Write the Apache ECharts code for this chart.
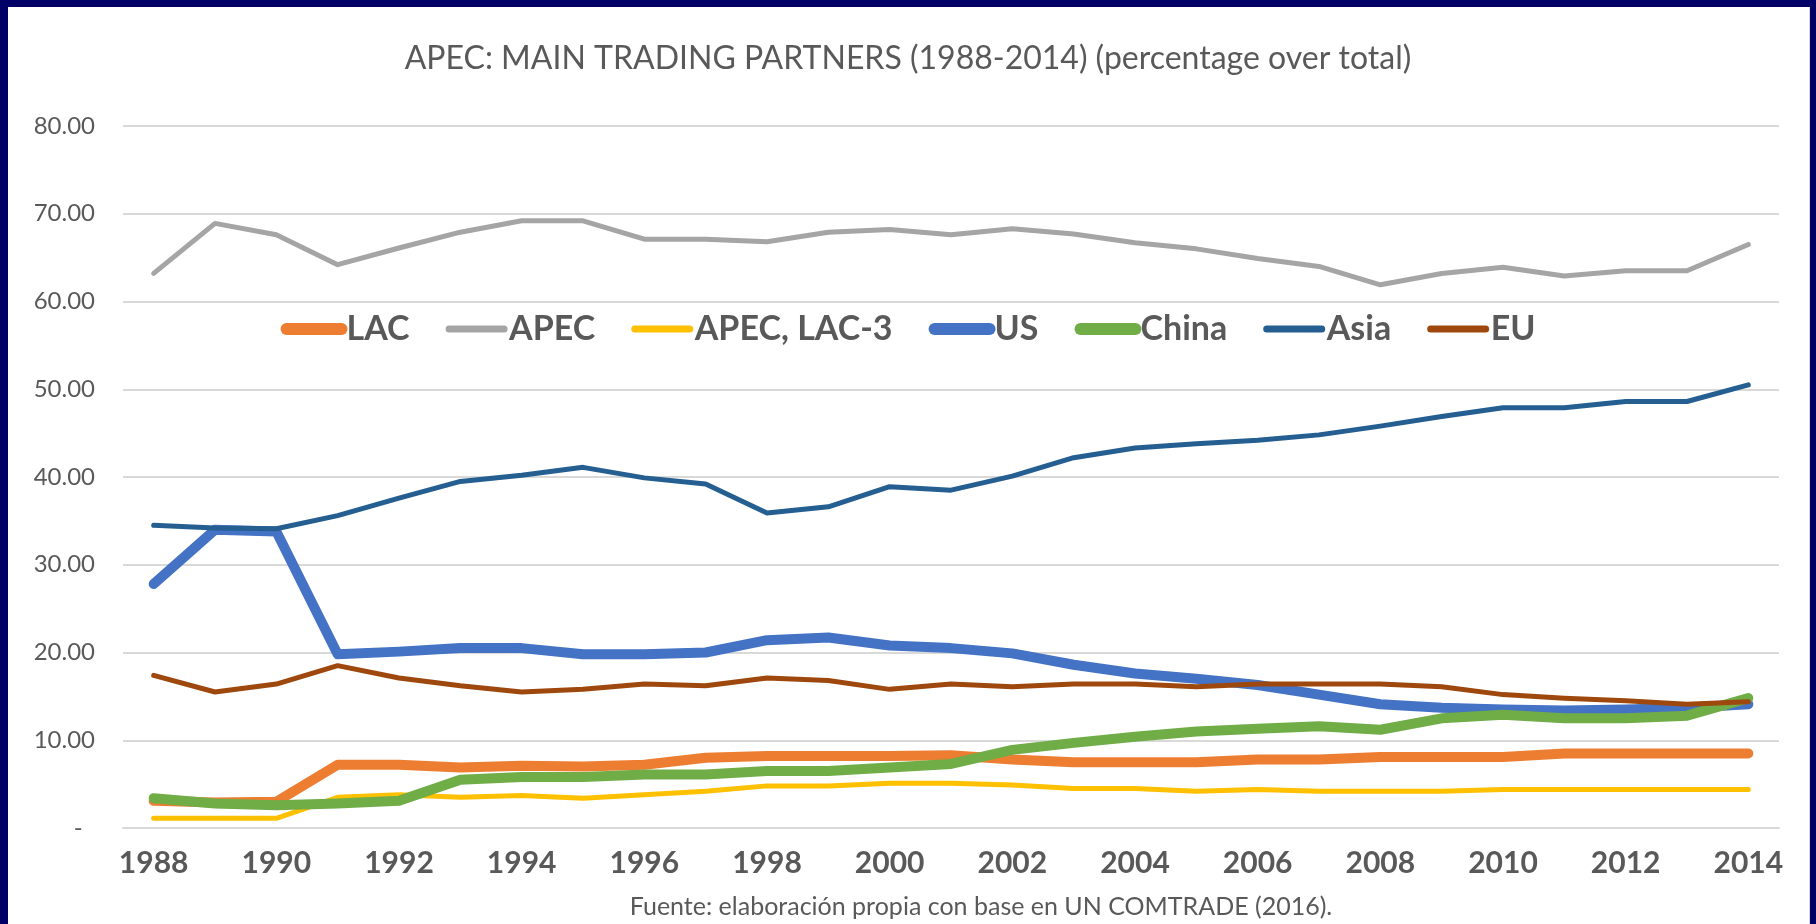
<!DOCTYPE html>
<html lang="en">
<head>
    <meta charset="UTF-8">
    <title>APEC: MAIN TRADING PARTNERS (1988-2014)</title>
    <script src="https://cdn.jsdelivr.net/npm/echarts@6/dist/echarts.min.js"></script>
    <style>
        html, body { margin: 0; padding: 0; background: #000066; }
        #panel { position: absolute; left: 8px; top: 7px; width: 1801px; height: 917px; background: #fff; border-right: 1px solid #d9d9d9; }
        #chart { position: absolute; left: 0; top: 0; width: 1816px; height: 924px; }
    </style>
</head>
<body>
    <div id="panel"></div>
    <div id="chart"></div>

    <script>
        // years on the x axis
        var years = ['1988', '1989', '1990', '1991', '1992', '1993', '1994', '1995', '1996', '1997',
            '1998', '1999', '2000', '2001', '2002', '2003', '2004', '2005', '2006', '2007',
            '2008', '2009', '2010', '2011', '2012', '2013', '2014'];

        // y axis tick labels (0..80 step 10)
        var yTickLabels = ['-  ', '10.00', '20.00', '30.00', '40.00', '50.00', '60.00', '70.00', '80.00'];

        // series values (percentage over total)
        var lac = [3.1, 2.9, 3.0, 7.2, 7.2, 6.9, 7.1, 7.0, 7.2, 8.0, 8.2, 8.2, 8.2, 8.3, 7.8, 7.5, 7.5, 7.5, 7.8, 7.8, 8.1, 8.1, 8.1, 8.5, 8.5, 8.5, 8.5];
        var apec = [63.2, 68.9, 67.6, 64.2, 66.1, 67.9, 69.2, 69.2, 67.1, 67.1, 66.8, 67.9, 68.2, 67.6, 68.3, 67.7, 66.7, 66.0, 64.9, 64.0, 61.9, 63.2, 63.9, 62.9, 63.5, 63.5, 66.5];
        var apecLac3 = [1.1, 1.1, 1.1, 3.5, 3.8, 3.5, 3.7, 3.4, 3.8, 4.2, 4.8, 4.8, 5.1, 5.1, 4.9, 4.5, 4.5, 4.2, 4.4, 4.2, 4.2, 4.2, 4.4, 4.4, 4.4, 4.4, 4.4];
        var us = [27.8, 34.0, 33.8, 19.8, 20.1, 20.5, 20.5, 19.8, 19.8, 20.0, 21.4, 21.7, 20.8, 20.5, 19.9, 18.6, 17.6, 17.0, 16.3, 15.2, 14.1, 13.7, 13.5, 13.4, 13.5, 13.7, 14.1];
        var china = [3.4, 2.8, 2.6, 2.8, 3.1, 5.5, 5.8, 5.8, 6.1, 6.1, 6.5, 6.5, 6.9, 7.3, 8.9, 9.7, 10.4, 11.0, 11.3, 11.6, 11.2, 12.5, 12.9, 12.5, 12.5, 12.8, 14.8];
        var asia = [34.5, 34.2, 34.1, 35.6, 37.6, 39.5, 40.2, 41.1, 39.9, 39.2, 35.9, 36.6, 38.9, 38.5, 40.1, 42.2, 43.3, 43.8, 44.2, 44.8, 45.8, 46.9, 47.9, 47.9, 48.6, 48.6, 50.5];
        var eu = [17.4, 15.5, 16.4, 18.5, 17.1, 16.2, 15.5, 15.8, 16.4, 16.2, 17.1, 16.8, 15.8, 16.4, 16.1, 16.4, 16.4, 16.1, 16.4, 16.4, 16.4, 16.1, 15.2, 14.8, 14.5, 14.1, 14.4];

        var seriesNames = ['LAC', 'APEC', 'APEC, LAC-3', 'US', 'China', 'Asia', 'EU'];
        var seriesData = [lac, apec, apecLac3, us, china, asia, eu];
        var seriesColors = ['#ED7D31', '#A5A5A5', '#FFC000', '#4472C4', '#70AD47', '#255E91', '#9E480E'];
        var seriesWidths = [10, 5, 5, 10, 10, 5, 5];

        var textColor = '#595959';
        var fontFamily = 'Lato, "Open Sans", sans-serif';

        var chart = echarts.init(document.getElementById('chart'));

        var series = seriesNames.map(function (name, i) {
            return {
                name: name,
                type: 'line',
                data: seriesData[i],
                symbol: 'none',
                color: seriesColors[i],
                lineStyle: { width: seriesWidths[i], color: seriesColors[i], cap: 'round', join: 'round' }
            };
        });

        // legend icons: plain rounded line of the series' own thickness, no marker
        var legendData = seriesNames.map(function (name, i) {
            return {
                name: name,
                itemStyle: { opacity: 0 },
                lineStyle: { width: seriesWidths[i] + 2, color: seriesColors[i], cap: 'round', opacity: 1 }
            };
        });

        var option = {
            animation: false,
            textStyle: { fontFamily: fontFamily },
            title: {
                text: 'APEC: MAIN TRADING PARTNERS (1988-2014) (percentage over total)',
                left: 'center',
                top: 38,
                textStyle: { fontSize: 32, fontWeight: 'normal', color: textColor, fontFamily: fontFamily }
            },
            legend: {
                data: legendData,
                top: 307,
                left: 'center',
                itemWidth: 55,
                itemHeight: 14,
                itemGap: 36,
                itemStyle: { opacity: 0 },
                textStyle: { fontSize: 34, fontWeight: 'bold', color: textColor, fontFamily: fontFamily }
            },
            grid: { left: 123, right: 37, top: 126, bottom: 96 },
            xAxis: {
                type: 'category',
                data: years,
                boundaryGap: true,
                axisLine: { show: true, lineStyle: { color: '#d9d9d9', width: 2 } },
                axisTick: { show: false },
                axisLabel: { interval: 1, fontSize: 30, fontWeight: 'bold', color: textColor, margin: 20, fontFamily: fontFamily }
            },
            yAxis: {
                type: 'value',
                min: 0,
                max: 80,
                interval: 10,
                axisLine: { show: false },
                axisTick: { show: false },
                splitLine: { lineStyle: { color: '#d9d9d9', width: 2 } },
                axisLabel: {
                    fontSize: 24,
                    color: textColor,
                    margin: 28,
                    fontFamily: fontFamily,
                    formatter: function (v) { return yTickLabels[Math.round(v / 10)]; }
                }
            },
            graphic: [{
                type: 'text',
                x: 981,
                y: 907,
                style: {
                    text: 'Fuente: elaboración propia con base en UN COMTRADE (2016).',
                    fontSize: 25,
                    fill: textColor,
                    fontFamily: fontFamily,
                    align: 'center',
                    verticalAlign: 'middle'
                }
            }],
            series: series
        };

        chart.setOption(option);
    </script>
</body>
</html>
